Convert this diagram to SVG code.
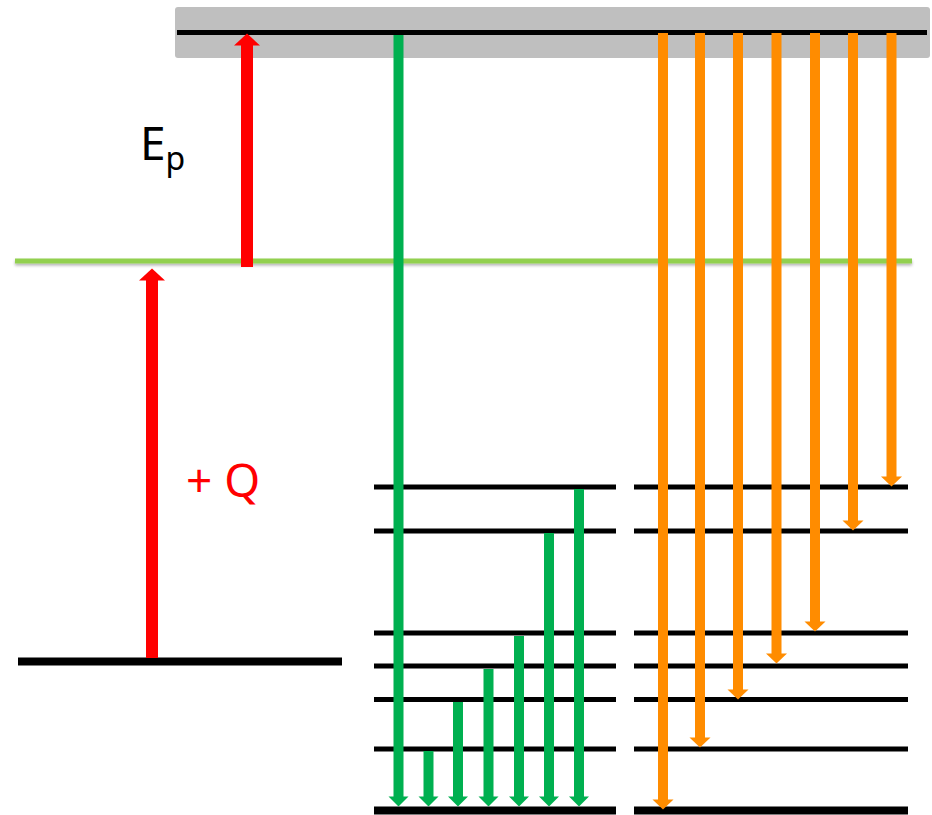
<svg xmlns="http://www.w3.org/2000/svg" width="932" height="815" viewBox="0 0 932 815">
<style>
.lvl{stroke:#000;stroke-width:5;fill:none}
.lvlb{stroke:#000;stroke-width:8;fill:none}
.g{stroke:#00B050;stroke-width:10;fill:none;marker-end:url(#hg)}
.o{stroke:#FF8C00;stroke-width:10;fill:none;marker-end:url(#ho)}
.r{stroke:#FF0000;stroke-width:12;fill:none;marker-end:url(#hr)}
.lbl{font-family:"Noto Sans","Open Sans","Liberation Sans",sans-serif}
</style>
<defs>
<marker id="hg" markerUnits="userSpaceOnUse" markerWidth="11" markerHeight="21" refX="0.5" refY="10" orient="auto" viewBox="0 0 11 21" overflow="visible"><path d="M0,0 L10,10 L0,20 z" fill="#00B050"/></marker>
<marker id="ho" markerUnits="userSpaceOnUse" markerWidth="11" markerHeight="22" refX="0.5" refY="10.5" orient="auto" viewBox="0 0 11 22" overflow="visible"><path d="M0,0 L10,10.5 L0,21 z" fill="#FF8C00"/></marker>
<marker id="hr" markerUnits="userSpaceOnUse" markerWidth="13" markerHeight="26" refX="0.5" refY="13" orient="auto" viewBox="0 0 13 26" overflow="visible"><path d="M0,0 L12,13 L0,26 z" fill="#FF0000"/></marker>
<filter id="sh" filterUnits="userSpaceOnUse" x="0" y="250" width="932" height="25"><feGaussianBlur in="SourceAlpha" stdDeviation="1.5"/><feOffset dy="2"/><feComponentTransfer><feFuncA type="linear" slope="0.3"/></feComponentTransfer><feMerge><feMergeNode/><feMergeNode in="SourceGraphic"/></feMerge></filter>
</defs>
<rect width="932" height="815" fill="#fff"/>
<g id="continuum">
<rect x="175" y="7" width="755" height="51" rx="3" fill="#BFBFBF"/>
<line x1="177" y1="32.5" x2="927" y2="32.5" class="lvl"/>
</g>
<g id="intermediate-level">
<rect x="15" y="258.5" width="897" height="5" fill="#92D050" filter="url(#sh)"/>
</g>
<g id="ground-level">
<line x1="18" y1="661.5" x2="342" y2="661.5" class="lvlb"/>
</g>
<g id="levels-left">
<line x1="374" y1="487" x2="616" y2="487" class="lvl"/>
<line x1="374" y1="531" x2="616" y2="531" class="lvl"/>
<line x1="374" y1="633" x2="616" y2="633" class="lvl"/>
<line x1="374" y1="666" x2="616" y2="666" class="lvl"/>
<line x1="374" y1="699.5" x2="616" y2="699.5" class="lvl"/>
<line x1="374" y1="749" x2="616" y2="749" class="lvl"/>
<line x1="374" y1="810.5" x2="616" y2="810.5" class="lvlb"/>
</g>
<g id="levels-right">
<line x1="634" y1="487" x2="908" y2="487" class="lvl"/>
<line x1="634" y1="531" x2="908" y2="531" class="lvl"/>
<line x1="634" y1="633" x2="908" y2="633" class="lvl"/>
<line x1="634" y1="666" x2="908" y2="666" class="lvl"/>
<line x1="634" y1="699.5" x2="908" y2="699.5" class="lvl"/>
<line x1="634" y1="749" x2="908" y2="749" class="lvl"/>
<line x1="634" y1="810.5" x2="908" y2="810.5" class="lvlb"/>
</g>
<g id="label-ep">
<text x="140" y="160" class="lbl" font-size="46" fill="#000">E<tspan font-size="32" dy="10">p</tspan></text>
</g>
<g id="label-q">
<text x="186" y="497" class="lbl" font-size="46" fill="#FF0000">+ Q</text>
</g>
<g id="connectors">
<line x1="152" y1="658" x2="152" y2="280" class="r"/>
<line x1="247" y1="267" x2="247" y2="45" class="r"/>
<line x1="398.5" y1="35" x2="398.5" y2="797" class="g"/>
<line x1="428.5" y1="751" x2="428.5" y2="797" class="g"/>
<line x1="458" y1="702" x2="458" y2="797" class="g"/>
<line x1="488.5" y1="669" x2="488.5" y2="797" class="g"/>
<line x1="519" y1="636" x2="519" y2="797" class="g"/>
<line x1="549" y1="533" x2="549" y2="797" class="g"/>
<line x1="579" y1="489" x2="579" y2="797" class="g"/>
<line x1="663" y1="33" x2="663" y2="800" class="o"/>
<line x1="700" y1="33" x2="700" y2="738" class="o"/>
<line x1="738" y1="33" x2="738" y2="690" class="o"/>
<line x1="776.5" y1="33" x2="776.5" y2="654" class="o"/>
<line x1="815" y1="33" x2="815" y2="622" class="o"/>
<line x1="853" y1="33" x2="853" y2="521" class="o"/>
<line x1="891.5" y1="33" x2="891.5" y2="477" class="o"/>
</g>
</svg>
